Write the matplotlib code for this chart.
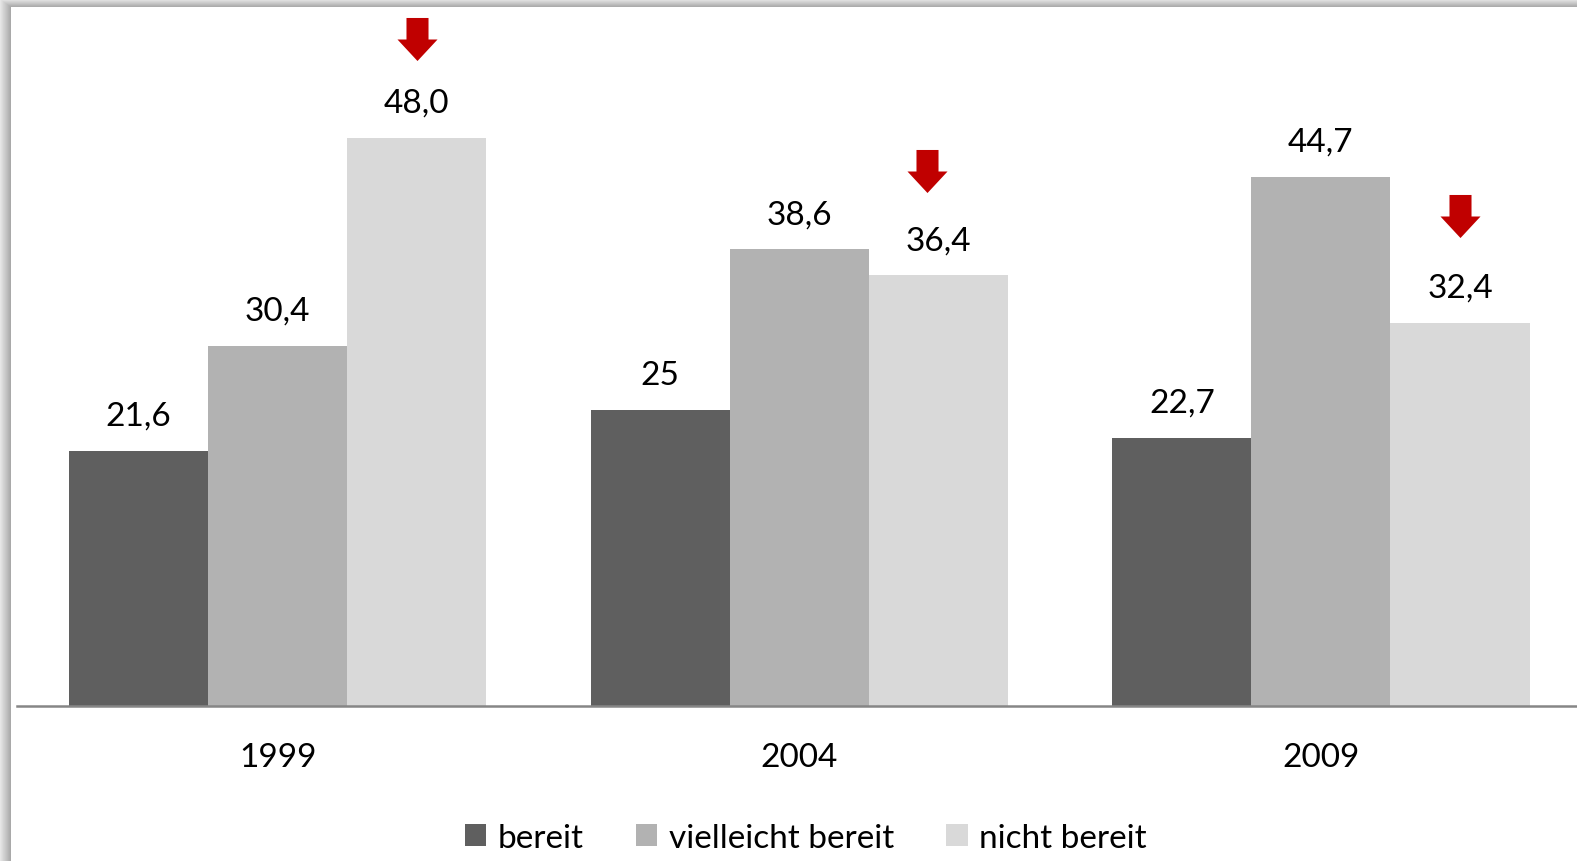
import numpy as np
import matplotlib
matplotlib.use("Agg")
import matplotlib.pyplot as plt
from matplotlib.path import Path
from matplotlib.transforms import offset_copy

# Daten
jahre = ["1999", "2004", "2009"]
serien = ["bereit", "vielleicht bereit", "nicht bereit"]
bereit = [21.6, 25, 22.7]
vielleicht = [30.4, 38.6, 44.7]
nicht = [48.0, 36.4, 32.4]
beschriftung = [["21,6", "25", "22,7"],
                ["30,4", "38,6", "44,7"],
                ["48,0", "36,4", "32,4"]]

farben = ["#5f5f5f", "#b2b2b2", "#d9d9d9"]
rot = "#c00000"

plt.rcParams["font.family"] = ["Lato", "DejaVu Sans"]

W, H = 1577, 862
fig = plt.figure(figsize=(W / 100, H / 100), dpi=100)

# Schatten am linken und oberen Rand
bg = fig.add_axes([0, 0, 1, 1], zorder=-10)
yy, xx = np.mgrid[0:H, 0:W]
dx = np.clip(11 - xx, 0, None)
dy = np.clip(8 - yy, 0, None)
d = np.maximum(dx / 11.0, dy / 8.0)
grau = np.where(d > 0, 0.64 + 0.26 * d, 1.0)
bg.imshow(grau, cmap="gray", vmin=0, vmax=1, aspect="auto", interpolation="bilinear")
bg.axis("off")

ax = fig.add_axes([17 / W, 155 / H, 1 - 17 / W, 699 / H])
ax.patch.set_alpha(0)

x = np.arange(len(jahre))
breite = 0.8 / 3
werte = [bereit, vielleicht, nicht]
for i, (vals, name) in enumerate(zip(werte, serien)):
    pos = x + (i - 1) * breite
    ax.bar(pos, vals, width=breite, color=farben[i], label=name, zorder=2)
    for xp, v, txt in zip(pos, vals, beschriftung[i]):
        ax.annotate(txt, (xp, v), xytext=(0, 25.5), textcoords="offset points",
                    ha="center", va="center", fontsize=24, color="#000000")

# rote Pfeile über "nicht bereit"
pfeil = Path([(-5.5, 10.75), (5.5, 10.75), (5.5, 0), (10, 0), (0, -10.75),
              (-10, 0), (-5.5, 0), (-5.5, 10.75)],
             [Path.MOVETO] + [Path.LINETO] * 6 + [Path.CLOSEPOLY])
pfeil_dx = [0, -11, 0]
pfeil_dy = [99, 104, 107]
for xp, v, ddx, ddy in zip(x + breite, nicht, pfeil_dx, pfeil_dy):
    tr = offset_copy(ax.transData, fig=fig, x=ddx, y=ddy, units="dots")
    ax.plot(xp, v, marker=pfeil, markersize=31, color=rot, markeredgewidth=0,
            transform=tr, clip_on=False, zorder=3)

ax.set_xlim(-0.5, 2.491)
ax.set_ylim(0, 59.1)
ax.set_xticks(x)
ax.set_xticklabels(jahre, fontsize=24)
ax.tick_params(axis="x", length=0, pad=26)
ax.set_yticks([])
for s in ["left", "right", "top"]:
    ax.spines[s].set_visible(False)
ax.spines["bottom"].set_color("#868686")
ax.spines["bottom"].set_linewidth(1.8)

fig.legend(loc="center", bbox_to_anchor=(0.511, 1 - 839 / H), ncol=3, frameon=False,
           fontsize=24, handlelength=0.65, handleheight=0.65, handletextpad=0.35,
           columnspacing=1.55)

fig.savefig("out.png", dpi=100)
